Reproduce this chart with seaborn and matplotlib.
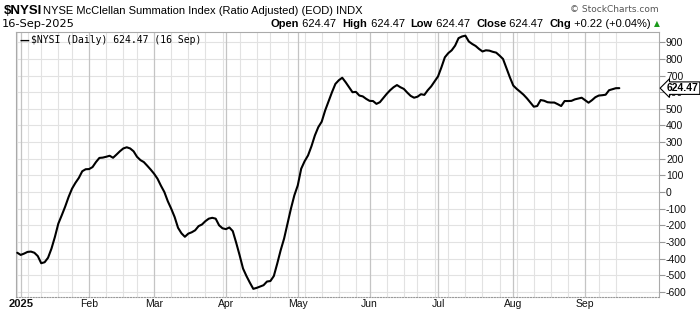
import numpy as np
import pandas as pd
import matplotlib
matplotlib.use("Agg")
import matplotlib.pyplot as plt
import matplotlib.transforms as mtrans
import seaborn as sns

# ---------------- data ----------------
holidays = ["2025-01-01", "2025-01-09", "2025-01-20", "2025-02-17", "2025-04-18",
            "2025-05-26", "2025-06-19", "2025-07-04", "2025-09-01"]

dec_vals = [-365]
jan_vals = [-378, -370, -360, -358, -365, -385, -428, -422, -395, -340,
            -270, -190, -140, -88, -30, 20, 55, 85, 125, 137]
feb_vals = [138, 150, 180, 205, 207, 212, 218, 206, 225, 245,
            262, 269, 262, 245, 212, 192, 180, 158, 135]
mar_vals = [110, 80, 38, 0, -55, -100, -150, -215, -248, -269,
            -250, -242, -230, -205, -195, -175, -160, -155, -160, -200, -218]
apr_vals = [-223, -213, -235, -305, -380, -460, -505, -545, -582, -576,
            -568, -560, -538, -535, -505, -430, -350, -280, -190, -100, -20]
may_vals = [40, 140, 185, 220, 275, 340, 390, 423, 490, 545,
            600, 650, 672, 687, 660, 630, 600, 602, 580, 575, 560]
jun_vals = [548, 547, 530, 540, 565, 590, 612, 630, 643, 630,
            620, 598, 578, 567, 573, 588, 584, 612, 635, 665]
jul_vals = [695, 750, 810, 835, 852, 880, 925, 935, 940, 905, 890,
            878, 860, 845, 852, 850, 843, 838, 820, 800, 745, 690]
aug_vals = [640, 620, 603, 585, 563, 538, 513, 517, 553, 549, 540,
            538, 538, 528, 517, 547, 547, 548, 557, 562, 567]
sep_vals = [552, 537, 552, 570, 580, 582, 585, 612, 618, 624.25, 624.47]

values = dec_vals + jan_vals + feb_vals + mar_vals + apr_vals + may_vals + \
    jun_vals + jul_vals + aug_vals + sep_vals

month_labels = ["2025", "Feb", "Mar", "Apr", "May", "Jun", "Jul", "Aug", "Sep"]
y_ticks = list(range(-600, 1000, 100))
last_value = 624.47

dates = [d for d in pd.bdate_range("2024-12-31", "2025-09-16")
         if d.strftime("%Y-%m-%d") not in holidays]
assert len(dates) == len(values), (len(dates), len(values))
df = pd.DataFrame({"date": dates, "nysi": values})
df["i"] = np.arange(len(df))

# month starts / week starts (trading-day index)
month_idx = df.groupby(df["date"].dt.to_period("M"))["i"].min().tolist()[1:]
week_idx = df.groupby(df["date"].dt.to_period("W"))["i"].min().tolist()

# ---------------- figure ----------------
sns.set_style("white")
plt.rcParams["font.family"] = ["Liberation Sans", "DejaVu Sans"]

fig = plt.figure(figsize=(7, 3.12), dpi=100)
ax = fig.add_axes([16 / 700, 15 / 312, 643 / 700, 265 / 312])

for y in y_ticks:
    ax.axhline(y, color="#e2e2e2", lw=0.8, zorder=0)
for w in week_idx:
    if w not in month_idx:
        ax.axvline(w, color="#e2e2e2", lw=0.8, zorder=0)
for m in month_idx:
    ax.axvline(m, color="#c4c4c4", lw=0.9, zorder=0)

sns.lineplot(data=df, x="i", y="nysi", ax=ax, color="black", lw=1.5, zorder=3)

ax.set_xlim(-0.37, 187.6)
ax.set_ylim(-631, 962)
ax.set_xlabel("")
ax.set_ylabel("")

ax.yaxis.tick_right()
ax.set_yticks(y_ticks)
ax.set_yticklabels([str(v) for v in y_ticks])
ax.tick_params(axis="y", which="both", right=True, left=False, length=4,
               width=0.8, color="#999999", labelsize=7.5, pad=1,
               labelcolor="#111111")
ax.set_xticks(month_idx)
ax.set_xticklabels(month_labels)
ax.tick_params(axis="x", length=0, labelsize=7.5, pad=1.5, labelcolor="#111111")
ax.get_xticklabels()[0].set_fontweight("bold")
ax.get_xticklabels()[0].set_fontsize(8)

for s in ["left", "right", "top"]:
    ax.spines[s].set_color("#aaaaaa")
    ax.spines[s].set_linewidth(0.8)
ax.spines["bottom"].set_color("#999999")
ax.spines["bottom"].set_linestyle((0, (1, 1.5)))
ax.spines["bottom"].set_linewidth(0.8)

# legend line inside axes
ax.text(0.005, 0.985, "\u2014", transform=ax.transAxes, ha="left", va="top",
        fontsize=7, fontweight="bold", family="DejaVu Sans", color="black")
ax.text(0.024, 0.988, "\\$NYSI (Daily) 624.47 (16 Sep)", transform=ax.transAxes,
        ha="left", va="top", fontsize=7, family="DejaVu Sans Mono", color="black")

# price tag on the right axis
trans = mtrans.blended_transform_factory(ax.transAxes, ax.transData)
ax.text(1.012, last_value, "624.47", transform=trans, ha="left", va="center",
        fontsize=7.5, fontweight="bold", color="black", zorder=5,
        bbox=dict(boxstyle="larrow,pad=0.12", fc="white", ec="black", lw=0.8),
        clip_on=False)

# header texts
fig.text(4 / 700, 1 - 11 / 312, "\\$NYSI", fontsize=9.5, fontweight="bold",
         ha="left", va="center", color="black")
fig.text(43 / 700, 1 - 11 / 312,
         "NYSE McClellan Summation Index (Ratio Adjusted) (EOD) INDX",
         fontsize=8, ha="left", va="center", color="black")
fig.text(659 / 700, 1 - 9 / 312, "\u00a9 StockCharts.com", fontsize=6.5,
         ha="right", va="center", color="#555555", family="DejaVu Sans")
fig.text(2 / 700, 1 - 24 / 312, "16-Sep-2025", fontsize=8.2, ha="left",
         va="center", color="black", family="DejaVu Sans")

# OHLC line built from parts
parts = [("Open", True), (" 624.47  ", False), ("High", True), (" 624.47  ", False),
         ("Low", True), (" 624.47  ", False), ("Close", True), (" 624.47  ", False),
         ("Chg", True), (" +0.22 (+0.04%) ", False)]
fig.canvas.draw()
renderer = fig.canvas.get_renderer()
texts = []
for s, b in parts:
    t = fig.text(0, 1 - 24 / 312, s, fontsize=8, fontweight="bold" if b else "normal",
                 ha="left", va="center", color="black")
    texts.append(t)
tri = fig.text(0, 1 - 24 / 312, "\u25b2", fontsize=5.5, ha="left", va="center",
               color="#1a9a1a", family="DejaVu Sans")
texts.append(tri)
widths = [t.get_window_extent(renderer).width for t in texts]
total = sum(widths)
x = 660 - total
for t, w in zip(texts, widths):
    t.set_x(x / 700)
    x += w

fig.savefig("out.png", dpi=100)
